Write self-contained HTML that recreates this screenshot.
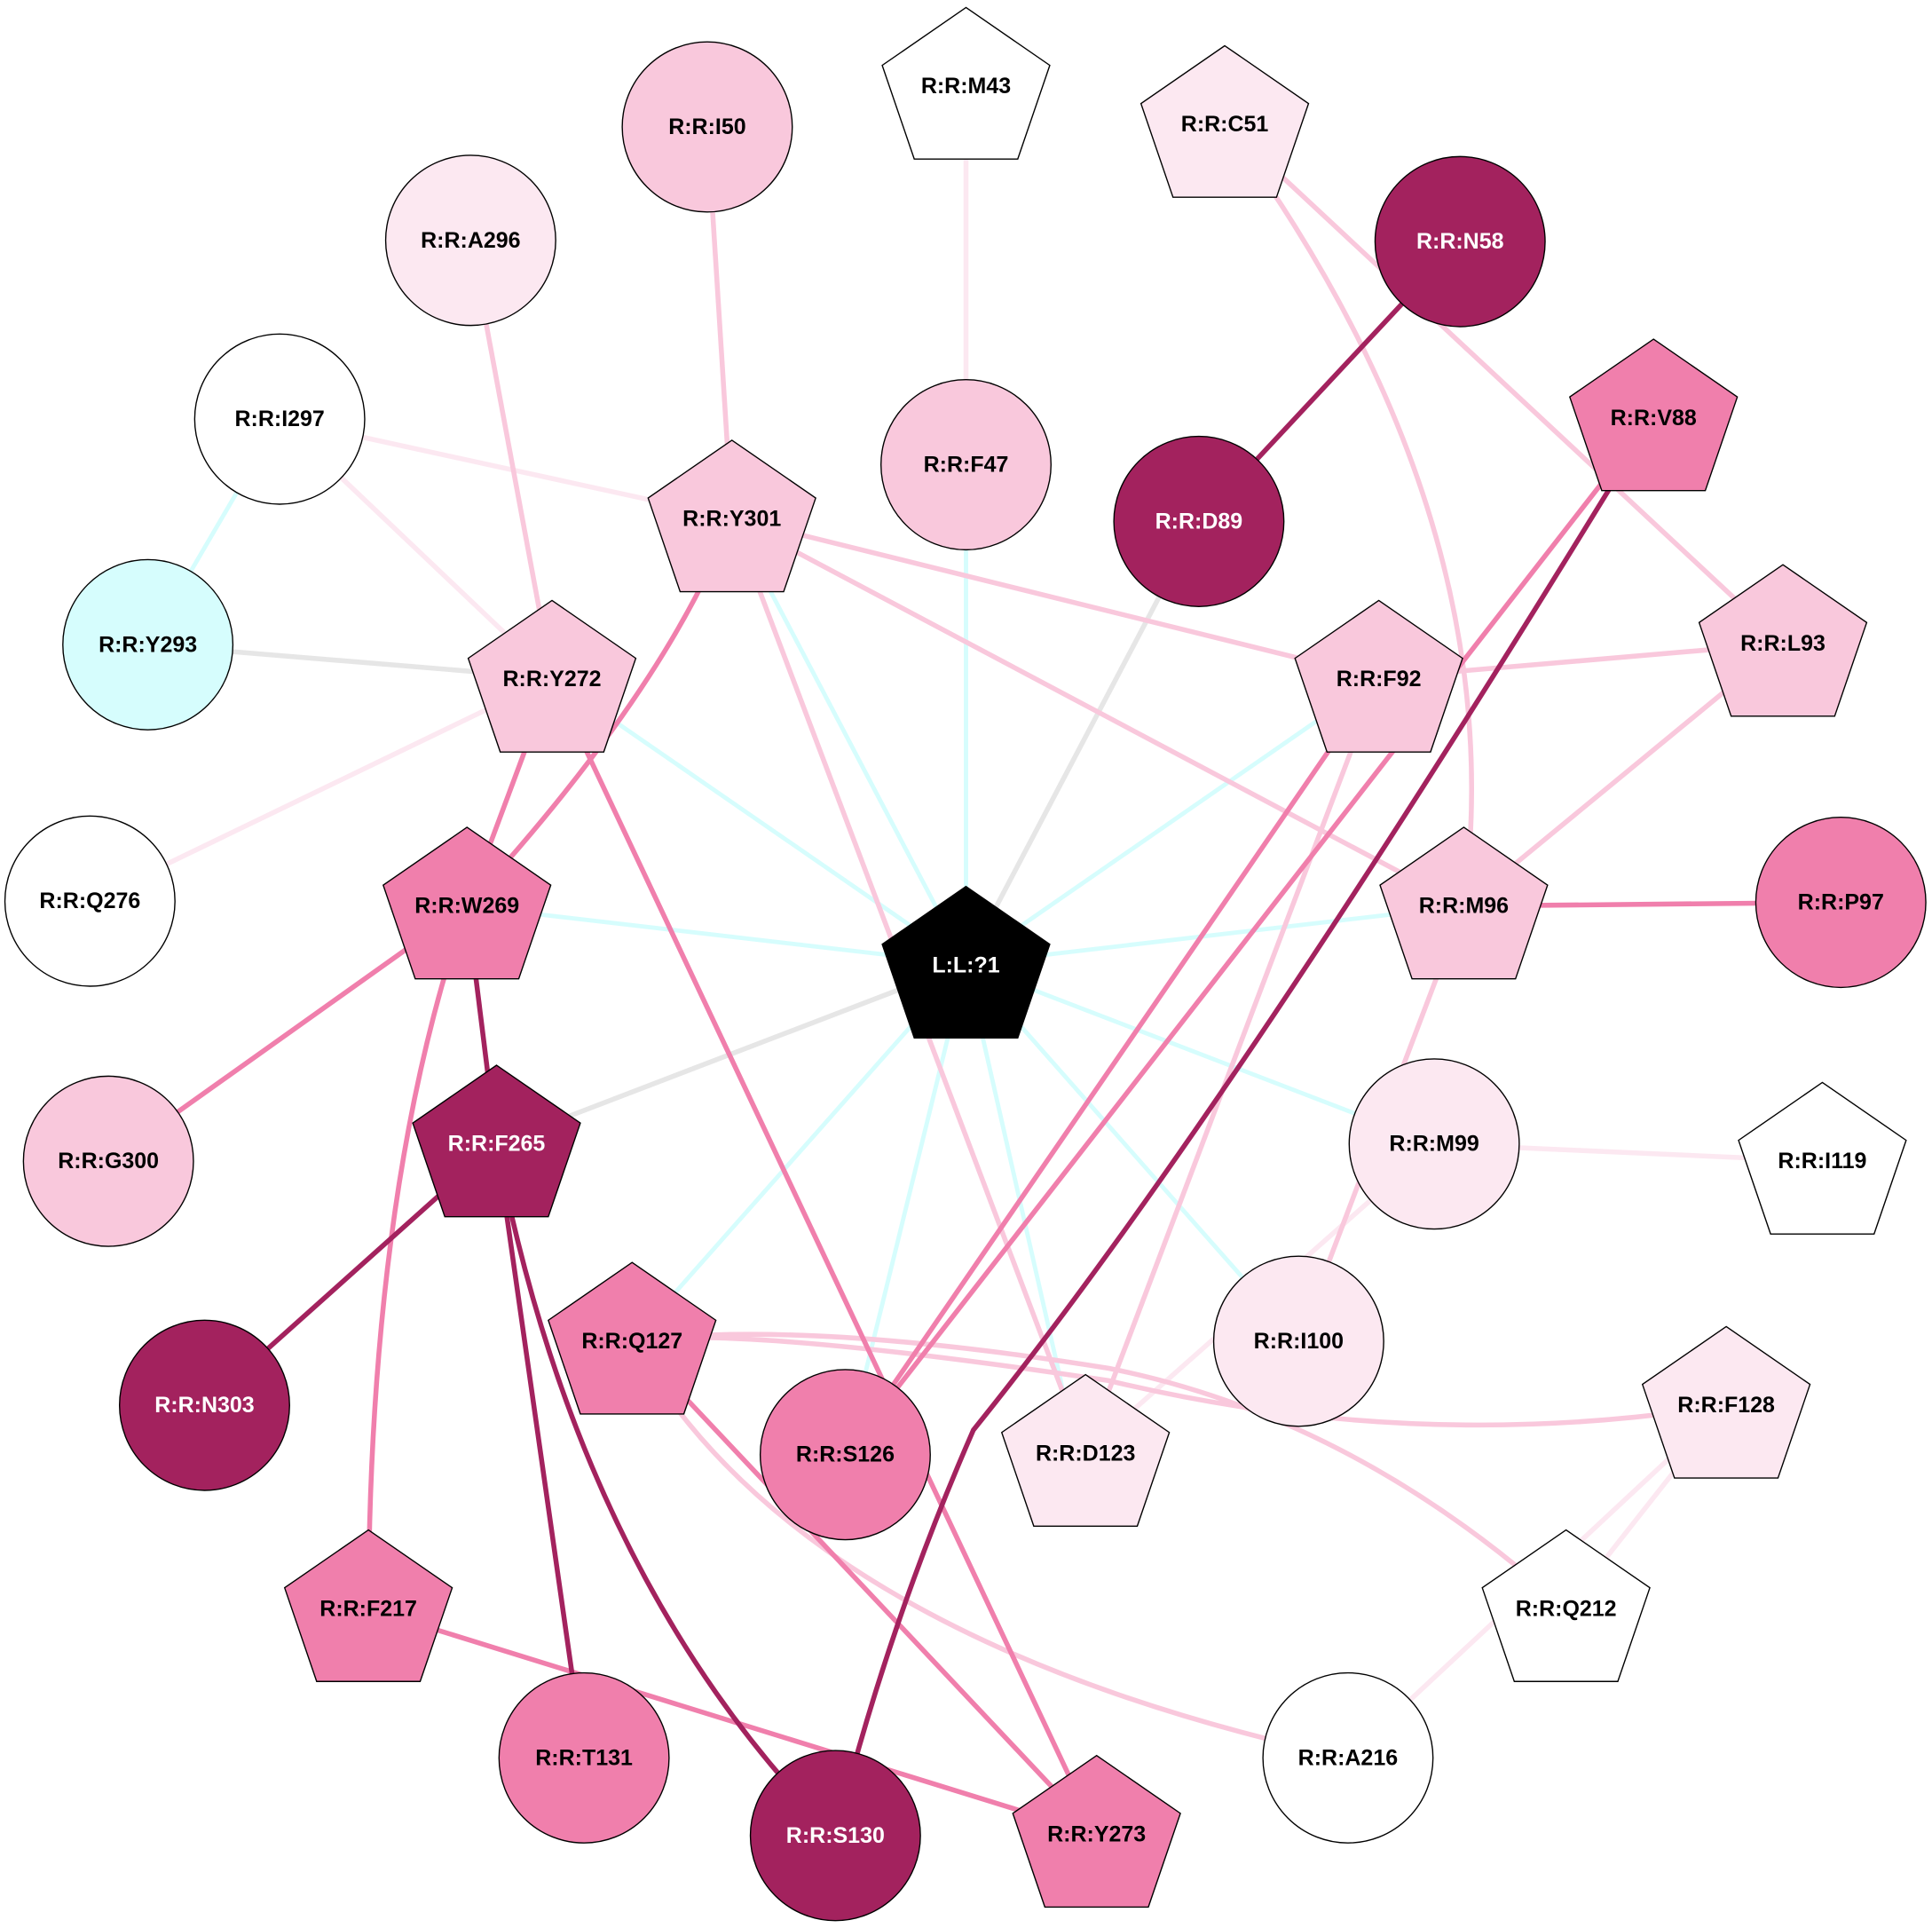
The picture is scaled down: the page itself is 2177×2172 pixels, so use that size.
<!DOCTYPE html>
<html><head><meta charset="utf-8"><style>
html,body{margin:0;padding:0;background:#fff;}
svg{display:block}
text{font-family:"Liberation Sans",Arial,sans-serif;font-weight:bold;font-size:18px;text-anchor:middle;dominant-baseline:middle}
</style></head><body>
<svg width="2177" height="2172" viewBox="0 0 1568 1564" preserveAspectRatio="none" xmlns="http://www.w3.org/2000/svg">
<g fill="none" stroke-width="4">
<g stroke="#d6fdfd" stroke-width="3.5">
<line x1="784" y1="782" x2="594" y2="420"/>
<line x1="784" y1="782" x2="448" y2="550"/>
<line x1="784" y1="782" x2="1119" y2="550"/>
<line x1="784" y1="782" x2="1188" y2="735"/>
<line x1="784" y1="782" x2="379" y2="735"/>
<line x1="784" y1="782" x2="1164" y2="928"/>
<line x1="784" y1="782" x2="1054" y2="1088"/>
<line x1="784" y1="782" x2="513" y2="1088"/>
<line x1="784" y1="782" x2="686" y2="1180"/>
<line x1="784" y1="782" x2="870" y2="1160"/>
<line x1="784" y1="782" x2="784" y2="377"/>
<line x1="227" y1="340" x2="120" y2="523"/>
</g>
<g stroke="#e6e6e6">
<line x1="120" y1="523" x2="448" y2="550"/>
<line x1="784" y1="782" x2="973" y2="423"/>
<line x1="784" y1="782" x2="403" y2="928"/>
</g>
<g stroke="#fce8f1">
<line x1="784" y1="70" x2="784" y2="377"/>
<line x1="227" y1="340" x2="594" y2="420"/>
<line x1="227" y1="340" x2="448" y2="550"/>
<line x1="448" y1="550" x2="73" y2="731"/>
<line x1="1164" y1="928" x2="1479" y2="942"/>
<line x1="1164" y1="928" x2="881" y2="1178"/>
<line x1="1401" y1="1140" x2="1094" y2="1426"/>
<line x1="1401" y1="1140" x2="1271" y2="1305"/>
</g>
<g stroke="#f9c8dc">
<line x1="574" y1="103" x2="594" y2="420"/>
<path d="M994 100 Q1230 420 1188 735"/>
<line x1="994" y1="100" x2="1447" y2="522"/>
<line x1="382" y1="195" x2="448" y2="550"/>
<line x1="594" y1="420" x2="1119" y2="550"/>
<line x1="594" y1="420" x2="1188" y2="735"/>
<line x1="594" y1="420" x2="881" y2="1178"/>
<line x1="1119" y1="550" x2="1447" y2="522"/>
<line x1="1119" y1="550" x2="881" y2="1178"/>
<line x1="1447" y1="522" x2="1188" y2="735"/>
<line x1="1188" y1="735" x2="1054" y2="1088"/>
<path d="M513 1088 Q600 1075 900 1120 Q1150 1180 1401 1140"/>
<path d="M513 1088 Q650 1070 900 1110 Q1100 1150 1271 1305"/>
<path d="M513 1088 Q650 1330 1094 1426"/>
</g>
<g stroke="#f07fac">
<line x1="1342" y1="338" x2="686" y2="1180"/>
<path d="M594 420 Q540 560 379 735"/>
<line x1="448" y1="550" x2="379" y2="735"/>
<line x1="448" y1="550" x2="890" y2="1488"/>
<line x1="1119" y1="550" x2="686" y2="1180"/>
<line x1="1188" y1="735" x2="1494" y2="732"/>
<line x1="379" y1="735" x2="88" y2="942"/>
<path d="M379 735 Q300 960 299 1305"/>
<line x1="513" y1="1088" x2="890" y2="1488"/>
<line x1="299" y1="1305" x2="890" y2="1488"/>
</g>
<g stroke="#a3225e">
<line x1="1185" y1="196" x2="973" y2="423"/>
<path d="M1342 338 Q1000 900 790 1160 Q720 1320 678 1489"/>
<line x1="379" y1="735" x2="403" y2="928"/>
<line x1="403" y1="928" x2="166" y2="1140"/>
<line x1="403" y1="928" x2="474" y2="1426"/>
<path d="M403 928 Q470 1280 678 1489"/>
</g>
</g>
<g stroke="#000" stroke-width="1">
<circle cx="574" cy="103" r="69" fill="#f9c8dc"/>
<circle cx="382" cy="195" r="69" fill="#fce8f1"/>
<circle cx="1185" cy="196" r="69" fill="#a3225e"/>
<circle cx="227" cy="340" r="69" fill="#fff"/>
<circle cx="784" cy="377" r="69" fill="#f9c8dc"/>
<circle cx="973" cy="423" r="69" fill="#a3225e"/>
<circle cx="120" cy="523" r="69" fill="#d6fdfd"/>
<circle cx="73" cy="731" r="69" fill="#fff"/>
<circle cx="1494" cy="732" r="69" fill="#f07fac"/>
<circle cx="88" cy="942" r="69" fill="#f9c8dc"/>
<circle cx="1164" cy="928" r="69" fill="#fce8f1"/>
<circle cx="166" cy="1140" r="69" fill="#a3225e"/>
<circle cx="686" cy="1180" r="69" fill="#f07fac"/>
<circle cx="1054" cy="1088" r="69" fill="#fce8f1"/>
<circle cx="474" cy="1426" r="69" fill="#f07fac"/>
<circle cx="678" cy="1489" r="69" fill="#a3225e"/>
<circle cx="1094" cy="1426" r="69" fill="#fff"/>
</g>
<g stroke="#000" stroke-width="1" id="pents"></g>
<g id="labels">
<text x="574" y="104">R:R:I50</text>
<text x="382" y="196">R:R:A296</text>
<text x="1185" y="197" fill="#fff">R:R:N58</text>
<text x="227" y="341">R:R:I297</text>
<text x="784" y="378">R:R:F47</text>
<text x="973" y="424" fill="#fff">R:R:D89</text>
<text x="120" y="524">R:R:Y293</text>
<text x="73" y="732">R:R:Q276</text>
<text x="1494" y="733">R:R:P97</text>
<text x="88" y="943">R:R:G300</text>
<text x="1164" y="929">R:R:M99</text>
<text x="166" y="1141" fill="#fff">R:R:N303</text>
<text x="686" y="1181">R:R:S126</text>
<text x="1054" y="1089">R:R:I100</text>
<text x="474" y="1427">R:R:T131</text>
<text x="678" y="1490" fill="#fff">R:R:S130</text>
<text x="1094" y="1427">R:R:A216</text>
</g>
<script>
var P=[["R:R:M43",784,71,"#fff","#000"],["R:R:C51",994,102,"#fce8f1","#000"],["R:R:V88",1342,340,"#f07fac","#000"],
["R:R:Y301",594,422,"#f9c8dc","#000"],["R:R:Y272",448,552,"#f9c8dc","#000"],["R:R:F92",1119,552,"#f9c8dc","#000"],
["R:R:L93",1447,523,"#f9c8dc","#000"],["R:R:W269",379,736,"#f07fac","#000"],["L:L:?1",784,784,"#000","#fff"],
["R:R:M96",1188,736,"#f9c8dc","#000"],["R:R:F265",403,929,"#a3225e","#fff"],["R:R:I119",1479,943,"#fff","#000"],
["R:R:Q127",513,1089,"#f07fac","#000"],["R:R:D123",881,1180,"#fce8f1","#000"],["R:R:F128",1401,1141,"#fce8f1","#000"],
["R:R:Q212",1271,1306,"#fff","#000"],["R:R:F217",299,1306,"#f07fac","#000"],["R:R:Y273",890,1489,"#f07fac","#000"]];
var g=document.getElementById("pents"),L=document.getElementById("labels"),ns="http://www.w3.org/2000/svg";
P.forEach(function(p){var R=71.5,cx=p[1],cy=p[2]+3,pts=[];
for(var i=0;i<5;i++){var a=-Math.PI/2+i*2*Math.PI/5;pts.push((cx+R*Math.cos(a)).toFixed(1)+","+(cy+R*0.95*Math.sin(a)).toFixed(1));}
var e=document.createElementNS(ns,"polygon");e.setAttribute("points",pts.join(" "));e.setAttribute("fill",p[3]);g.appendChild(e);
var t=document.createElementNS(ns,"text");t.setAttribute("x",cx);t.setAttribute("y",p[2]);t.setAttribute("fill",p[4]);t.textContent=p[0];L.appendChild(t);});
</script>
</svg>
</body></html>
